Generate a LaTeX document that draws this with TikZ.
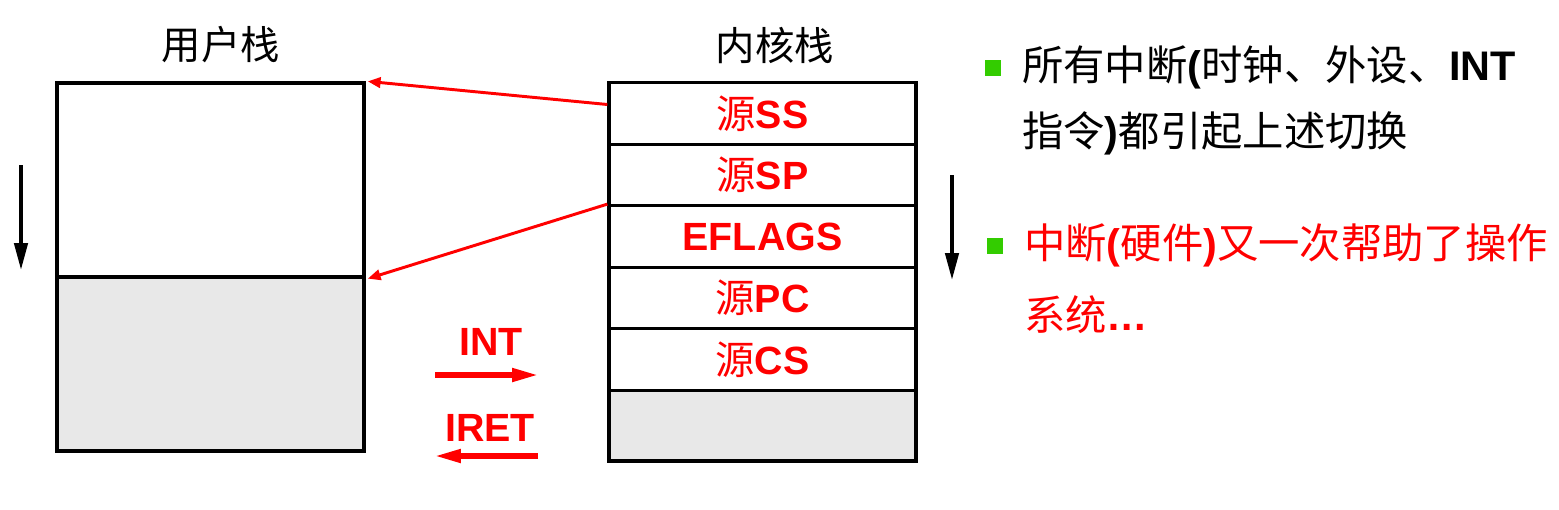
\documentclass[tikz,border=0pt]{standalone}
\usepackage{fontspec}
\setmainfont{Liberation Sans}
\newfontfamily\cjk{Noto Sans CJK SC}
\usetikzlibrary{arrows.meta}
\definecolor{cellgray}{HTML}{E8E8E8}
\definecolor{bulletgreen}{HTML}{33CC00}
\begin{document}
\begin{tikzpicture}[x=0.025cm,y=-0.025cm,
  cell/.style={draw=black,line width=2.3pt,inner sep=0pt,minimum width=7.675cm},
  lbl/.style={font=\fontsize{28}{34}\selectfont},
  redlbl/.style={text=red,font=\fontsize{28}{34}\selectfont\bfseries},
  redarrow/.style={draw=red,line width=2.1pt,-{Triangle[length=0.32cm,width=0.26cm]}},
  blackarrow/.style={draw=black,line width=3.5pt,-{Triangle[length=0.7cm,width=0.32cm]}},
  swaparrow/.style={draw=red,line width=4.6pt,-{Triangle[length=0.72cm,width=0.3cm]}},
  bullet/.style={fill=bulletgreen,minimum size=0.4cm,inner sep=0pt},
  btext/.style={anchor=west,inner sep=0pt,font=\fontsize{29.4}{34}\selectfont}
]
\useasboundingbox (0,0) rectangle (1559,509);
% titles
\node[lbl] (tu) at (221,45) {\cjk 用户栈};
\node[lbl] (tk) at (775,45) {\cjk 内核栈};
% user stack
\node[cell,fill=cellgray,minimum height=4.35cm] (u2) at (210.5,364) {};
\node[cell,fill=white,minimum height=4.85cm] (u1) at (210.5,180) {};
% kernel stack
\node[cell,fill=cellgray,minimum height=1.775cm] (k6) at (762.5,425.5) {};
\node[cell,fill=white,minimum height=1.5375cm,redlbl] (k5) at (762.5,359.5) {{\cjk\mdseries 源}CS};
\node[cell,fill=white,minimum height=1.5375cm,redlbl] (k4) at (762.5,298) {{\cjk\mdseries 源}PC};
\node[cell,fill=white,minimum height=1.5375cm,redlbl] (k3) at (762.5,236.5) {EFLAGS};
\node[cell,fill=white,minimum height=1.5375cm,redlbl] (k2) at (762.5,175) {{\cjk\mdseries 源}SP};
\node[cell,fill=white,minimum height=1.5375cm,redlbl] (k1) at (762.5,113.5) {{\cjk\mdseries 源}SS};
% red connectors
\coordinate (s1) at ([yshift=0.225cm]k1.west);
\draw[redarrow] (s1) -- ([xshift=1.5pt]u1.north east);
\draw[redarrow] (k3.north west) -- ([xshift=1.5pt]u1.south east);
% growth arrows
\coordinate (la1) at (21,165);
\coordinate (la2) at (21,271);
\draw[blackarrow] (la1) -- (la2);
\coordinate (ra1) at (952,175);
\coordinate (ra2) at (952,281);
\draw[blackarrow] (ra1) -- (ra2);
% INT / IRET
\node[redlbl] (int) at (491,342) {INT};
\coordinate (i1) at (435,375);
\coordinate (i2) at (541,375);
\draw[swaparrow] (i1) -- (i2);
\node[redlbl] (iret) at (490,428) {IRET};
\coordinate (r1) at (538,456);
\coordinate (r2) at (432,456);
\draw[swaparrow] (r1) -- (r2);
% bullets
\node[bullet] (b1) at (993,68) {};
\node[btext] (t1) at (1022,67) {{\cjk 所有中断}\textbf{(}{\cjk 时钟、外设、}\textbf{INT}};
\node[btext] (t2) at (1022,133) {{\cjk 指令}\textbf{)}{\cjk 都引起上述切换}};
\node[bullet] (b2) at (995,246) {};
\node[btext,text=red] (t3) at (1024,245) {{\cjk 中断}\textbf{(}{\cjk 硬件}\textbf{)}{\cjk 又一次帮助了操作}};
\node[btext,text=red] (t4) at (1024,315) {{\cjk 系统}\textbf{\ldots}};
\end{tikzpicture}
\end{document}
